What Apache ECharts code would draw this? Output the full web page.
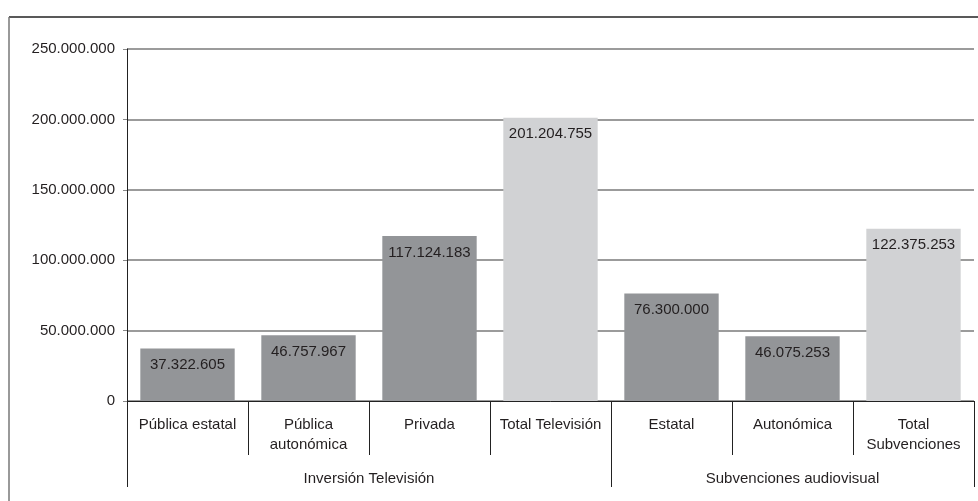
<!DOCTYPE html>
<html>
<head>
<meta charset="utf-8">
<script src="https://cdn.jsdelivr.net/npm/echarts@6/dist/echarts.min.js"></script>
<style>
  html, body { margin: 0; padding: 0; background: #fff; }
  #chart { width: 978px; height: 501px; }
</style>
</head>
<body>
<div id="chart"></div>
<script>
// categorías y valores
const categories = ['Pública estatal', 'Pública\nautonómica', 'Privada', 'Total Televisión', 'Estatal', 'Autonómica', 'Total\nSubvenciones']
const values = [37322605, 46757967, 117124183, 201204755, 76300000, 46075253, 122375253]
const isTotal = [false, false, false, true, false, false, true]
const groups = ['Inversión Televisión', 'Subvenciones audiovisual']
const groupSizes = [4, 3]
const yMin = 0
const yMax = 250000000
const yStep = 50000000

const fmt = v => String(v).replace(/\B(?=(\d{3})+(?!\d))/g, '.')

// eje de grupos: puntos a medio paso (boundaryGap false)
const groupPoints = []
const groupLabelAt = {}
const groupEdges = [0]
let start = 0
groupSizes.forEach((n, i) => {
  groupLabelAt[2 * start + n] = groups[i]
  start += n
  groupEdges.push(2 * start)
})
for (let i = 0; i <= 2 * start; i++) groupPoints.push(groupLabelAt[i] || '')

const textColor = '#231f20'
const font = '"Liberation Sans", Arial, sans-serif'

const chart = echarts.init(document.getElementById('chart'))
chart.setOption({
  animation: false,
  textStyle: { fontFamily: font },
  grid: { left: 127, right: 4, top: 49, bottom: 100 },
  graphic: [
    { type: 'line', shape: { x1: 9, y1: 17, x2: 978, y2: 17 }, style: { stroke: '#222', lineWidth: 1.5 } },
    { type: 'line', shape: { x1: 9, y1: 17, x2: 9, y2: 501 }, style: { stroke: '#777', lineWidth: 1.5 } }
  ],
  xAxis: [{
    type: 'category',
    data: categories,
    boundaryGap: true,
    axisLine: { lineStyle: { color: '#222', width: 1 } },
    axisTick: { show: true, length: 54, interval: 0, lineStyle: { color: '#222', width: 1 } },
    axisLabel: { interval: 0, margin: 14, fontSize: 15, lineHeight: 20, color: textColor, fontFamily: font }
  }, {
    type: 'category',
    data: groupPoints,
    boundaryGap: false,
    position: 'bottom',
    axisLine: { show: false },
    axisTick: {
      show: true, length: 86,
      interval: (idx) => groupEdges.indexOf(idx) >= 0,
      lineStyle: { color: '#222', width: 1 }
    },
    axisLabel: {
      interval: (idx, val) => val !== '',
      margin: 70, fontSize: 15, color: textColor, fontFamily: font
    }
  }],
  yAxis: {
    type: 'value',
    min: yMin,
    max: yMax,
    interval: yStep,
    axisLine: { show: true, lineStyle: { color: '#222', width: 1 } },
    axisTick: { show: true, length: 4, lineStyle: { color: '#888' } },
    axisLabel: { margin: 12, fontSize: 15, color: textColor, fontFamily: font, formatter: fmt },
    splitLine: { show: true, lineStyle: { color: '#7a7a7a', width: 1.5 } }
  },
  series: [{
    type: 'bar',
    xAxisIndex: 0,
    barCategoryGap: '22%',
    data: values.map((v, i) => ({
      value: v,
      itemStyle: { color: isTotal[i] ? '#d1d2d4' : '#939598' }
    })),
    label: {
      show: true,
      position: 'insideTop',
      distance: 9,
      fontSize: 15,
      color: textColor,
      fontFamily: font,
      formatter: p => fmt(p.value)
    }
  }]
})
</script>
</body>
</html>
